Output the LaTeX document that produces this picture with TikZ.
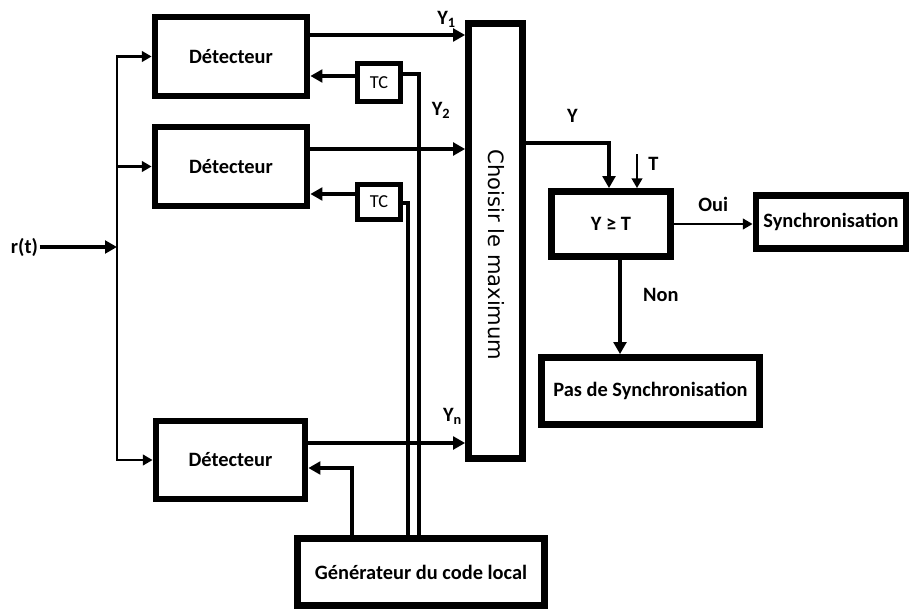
\documentclass[tikz,border=0pt]{standalone}
\usepackage{fontspec}
\setmainfont{Carlito}
\newfontfamily\vertfont{DejaVu Sans}
\usetikzlibrary{arrows.meta,positioning,calc}
\newcommand\pxl{0.025cm}

\begin{document}
\begin{tikzpicture}[
  x=0.025cm, y=-0.025cm,
  blk/.style={rectangle, draw, line width=4.8pt, inner sep=0pt,
              font=\fontsize{14.5}{16}\selectfont\bfseries, align=center},
  tcbox/.style={rectangle, draw, line width=3.6pt, inner sep=0pt,
                font=\fontsize{13}{14}\selectfont},
  lab/.style={font=\fontsize{14.5}{16}\selectfont\bfseries, inner sep=1pt},
  arr/.style={-{Triangle[length=8.5pt, width=9pt]}, line width=3pt},
  tarr/.style={-{Triangle[length=7pt, width=7.5pt]}, line width=2.1pt},
  wire/.style={line width=3pt}
]
\useasboundingbox (0,0) rectangle (913,610);

% Detectors and their code blocks
\node[blk, minimum width=152*\pxl, minimum height=79*\pxl] (det1) at (231,56.5) {Détecteur};
\node[blk, minimum width=152*\pxl, minimum height=79*\pxl] (det2) at (231,166.5) {Détecteur};
\node[blk, minimum width=149*\pxl, minimum height=78*\pxl] (detn) at (230.5,460) {Détecteur};
\node[tcbox, minimum width=43*\pxl, minimum height=38*\pxl] (tc1) at (379,82.5) {TC};
\node[tcbox, minimum width=43*\pxl, minimum height=35*\pxl] (tc2) at (379,202) {TC};

% Decision blocks
\node[blk, minimum width=54*\pxl, minimum height=435*\pxl] (chm) at (495.5,241) {};
\node[rotate=-90, font=\vertfont\fontsize{15}{16}\selectfont] (chmtxt) at ($(chm)+(1,14)$) {Choisir le maximum};
\node[blk, minimum width=119*\pxl, minimum height=65*\pxl] (cmp) at (611,224) {Y ≥ T};
\node[blk, minimum width=150*\pxl, minimum height=53*\pxl] (sync) at (831,222) {Synchronisation};
\node[blk, minimum width=218*\pxl, minimum height=67*\pxl] (nosync) at (650.5,391) {Pas de Synchronisation};
\node[blk, minimum width=247*\pxl, minimum height=67*\pxl] (gen) at (421,572) {Générateur du code local};

% Input
\node[lab] (rt) at (24.5,247) {r(t)};
\coordinate (bus) at (117,247);
\draw[arr] (rt.east) -- (bus);
\draw[tarr] (bus) |- (det1.west);
\draw[tarr] (bus) |- (det2.west);
\draw[tarr] (bus) |- (detn.west);

% Detector outputs
\draw[arr] ($(det1.east)+(0,-21.5)$) coordinate (o1) -- node[lab, pos=0.88, above=3pt] {Y\textsubscript{1}} (o1 -| chm.west);
\draw[arr] ($(det2.east)+(0,-17.5)$) coordinate (o2) -- node[lab, pos=0.845, above=19pt] {Y\textsubscript{2}} (o2 -| chm.west);
\draw[arr] ($(detn.east)+(0,-17)$) coordinate (on) -- node[lab, pos=0.92, above=10.5pt] {Y\textsubscript{n}} (on -| chm.west);

% Local code
\draw[arr] ($(tc1.west)+(0,-6.5)$) coordinate (t1) -- (t1 -| det1.east);
\draw[arr] ($(tc2.west)+(0,-8)$) coordinate (t2) -- (t2 -| det2.east);
\draw[wire] ($(tc1.east)+(0,-8.5)$) -| ($(gen.north)+(-2,0)$);
\draw[wire] ($(tc2.east)+(0,1)$) -| ($(gen.north)+(-13,0)$);
\draw[arr] ($(gen.north)+(-69,0)$) |- ($(detn.east)+(0,8)$);

% Threshold test
\draw[arr] ($(chm.east)+(0,-98)$) -| node[lab, pos=0.28, above=12pt] {Y} ($(cmp.north)+(-2,0)$);
\coordinate (tin) at ($(cmp.north)+(26,-34)$);
\draw[tarr] (tin) -- node[lab, pos=0.3, right=6pt] {T} (tin |- cmp.north);
\draw[tarr] (cmp.east) -- node[lab, above=7pt] {Oui} (cmp.east -| sync.west);
\draw[arr] ($(cmp.south)+(9,0)$) coordinate (nb) -- node[lab, pos=0.37, right=14pt] {Non} (nb |- nosync.north);
\end{tikzpicture}
\end{document}
